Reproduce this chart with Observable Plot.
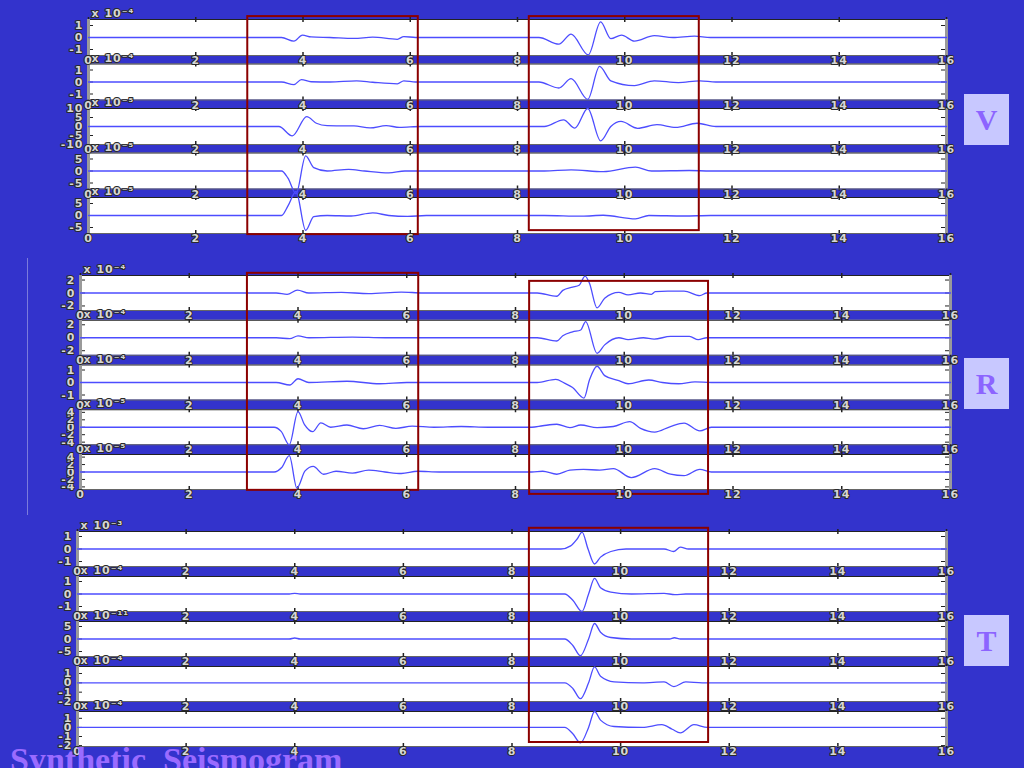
<!DOCTYPE html>
<html><head><meta charset="utf-8">
<script src="https://cdn.jsdelivr.net/npm/d3@7"></script>
<script src="https://cdn.jsdelivr.net/npm/@observablehq/plot@0.6"></script>
<style>
html,body{margin:0;padding:0;background:#3333cc;}
#page{position:relative;width:1024px;height:768px;overflow:hidden;background:#3333cc;}
.grp{position:absolute;left:0;}
.tag{position:absolute;left:964px;width:45px;height:51px;background:#c8c8ff;color:#8c64ff;font:bold 30px "Liberation Serif",serif;display:flex;align-items:center;justify-content:center;}
#title{position:absolute;left:10px;top:743px;font:bold 34px "Liberation Serif",serif;color:#9a6bff;white-space:pre;line-height:1;}
#vline{position:absolute;left:27px;top:258px;width:1px;height:257px;background:#7b7bdc;}
</style></head><body><div id="page"></div>
<script>
// ---------- data ----------
const timeTicks = [0, 2, 4, 6, 8, 10, 12, 14, 16];
const componentNames = ["V", "R", "T"];

// V component traces: [time, amplitude]
const V1 = [[0,0],[3.6,0],[3.83,-0.3],[3.99,0.2],[4.15,0.05],[4.5,0],[4.95,-0.08],[5.3,0.03],[5.76,-0.15],[5.88,0.08],[6.1,0],[8.4,0],[8.77,-0.55],[9.0,0.28],[9.32,-1.45],[9.55,1.3],[9.74,-0.1],[9.94,0.2],[10.18,-0.3],[10.55,0.15],[10.9,0],[11.3,0.12],[11.6,0],[16,0]];
const V2 = [[0,0],[3.6,0],[3.83,-0.22],[3.97,0.2],[4.15,0.02],[4.5,0],[5.0,0.1],[5.3,-0.02],[5.76,-0.15],[5.88,0.1],[6.1,0],[8.4,0],[8.77,-0.5],[9.0,0.28],[9.31,-1.45],[9.53,1.3],[9.74,0.1],[10.18,-0.3],[10.55,0.1],[11.0,-0.05],[11.4,0.1],[11.7,0],[16,0]];
const V3 = [[0,0],[3.55,0],[3.8,-5.2],[4.07,5.5],[4.25,1.8],[4.45,0.5],[4.95,0.3],[5.25,-0.8],[5.55,0.5],[5.8,-0.5],[6.2,0],[8.5,0],[8.86,3.7],[9.07,-0.9],[9.31,10],[9.55,-8],[9.74,0],[9.93,2.8],[10.24,-1],[10.6,1],[10.95,-0.5],[11.35,1.8],[11.7,0],[16,0]];
const V4 = [[0,0],[3.6,0],[3.72,-3],[3.87,-9.5],[4.05,6.3],[4.2,1.4],[4.45,0],[4.85,0.7],[5.15,0],[5.6,-0.8],[5.9,0],[8.5,0],[9.0,0.5],[9.6,-0.3],[10.2,1.6],[10.5,0],[11.2,0.2],[11.6,0],[16,0]];
const V5 = [[0,0],[3.6,0],[3.72,4],[3.87,10],[4.05,-6.2],[4.2,-0.5],[4.45,0],[4.9,-0.2],[5.3,1.1],[5.6,0],[5.95,-0.4],[6.3,0],[8.5,0],[9.2,-0.3],[9.6,0.1],[10.2,-1.4],[10.45,0],[11.1,-0.2],[11.6,0],[16,0]];
const V_yTicks = [[-1,0,1],[-1,0,1],[-10,-5,0,5,10],[-5,0,5],[-5,0,5]];
const V_domains = [[-1.5,1.5],[-1.5,1.5],[-10,10],[-7.5,7.5],[-7.5,7.5]];
const V_exponents = [-4,-4,-5,-5,-5];
const V_windows = [[2.97,6.15,-0.47,4.43],[8.22,11.39,-0.47,4.34]];

// R component traces
const R1 = [[0,0],[3.6,0],[3.8,-0.2],[3.99,0.45],[4.2,0],[4.8,0.1],[5.3,-0.1],[5.9,0.15],[6.3,0],[8.4,0],[8.76,-0.5],[8.87,0.4],[9.05,0.9],[9.17,1.2],[9.28,2.6],[9.36,1.5],[9.5,-2.3],[9.64,-0.8],[9.9,0.1],[10.07,-0.3],[10.3,0],[10.5,-0.2],[10.57,0.2],[10.8,0.3],[11.1,0.3],[11.39,-0.4],[11.52,0],[16,0]];
const R2 = [[0,0],[3.6,0],[3.85,-0.15],[4.0,0.3],[4.2,0],[5.0,0.1],[5.6,0],[8.4,0],[8.76,-0.5],[8.87,0.3],[9.05,0.9],[9.2,1.2],[9.29,2.5],[9.5,-2.4],[9.64,-1.1],[9.9,0],[10.07,-0.3],[10.35,0],[10.55,-0.2],[10.85,0.2],[11.2,0.2],[11.36,-0.3],[11.52,0],[16,0]];
const R3 = [[0,0],[3.6,0],[3.85,-0.2],[4.0,0.3],[4.2,0],[4.9,0.1],[5.5,-0.1],[6.0,0],[8.4,0],[8.74,0.25],[8.9,-0.05],[9.05,-0.4],[9.26,-1.25],[9.36,0.2],[9.5,1.3],[9.64,0.55],[9.9,0.15],[10.07,-0.1],[10.45,0.2],[10.7,0],[11.0,-0.1],[11.3,0.05],[11.6,0],[16,0]];
const R4 = [[0,0],[3.56,0],[3.69,-1.1],[3.84,-4.7],[4.0,4.2],[4.12,0.7],[4.27,-1.2],[4.42,1.2],[4.6,0],[4.9,0.6],[5.2,-0.4],[5.5,0.5],[5.8,-0.3],[6.1,0.3],[6.5,0],[7.0,0.2],[7.5,0],[8.3,0],[8.5,0.4],[8.76,0.8],[9.0,-0.1],[9.2,0.6],[9.5,-0.1],[9.8,0.2],[10.1,1.5],[10.3,-0.3],[10.56,-1.3],[10.85,0.2],[11.1,1.1],[11.39,-1],[11.6,0],[16,0]];
const R5 = [[0,0],[3.56,0],[3.7,1.2],[3.84,4.4],[3.98,-4.3],[4.13,0.3],[4.28,1.5],[4.47,-0.6],[4.7,0.2],[5.0,-0.3],[5.3,0.5],[5.6,0],[5.9,-0.4],[6.2,0.2],[6.6,0],[8.3,0],[8.5,0.2],[8.76,-0.6],[9.0,0.5],[9.25,0.7],[9.55,0.5],[9.8,0.9],[10.13,-1.5],[10.56,0.9],[10.85,-0.6],[11.1,-1],[11.39,0.7],[11.6,0],[16,0]];
const R_yTicks = [[-2,0,2],[-2,0,2],[-1,0,1],[-4,-2,0,2,4],[-4,-2,0,2,4]];
const R_domains = [[-2.7,2.7],[-2.7,2.7],[-1.4,1.4],[-4.7,4.7],[-4.7,4.7]];
const R_exponents = [-4,-4,-4,-5,-5];
const R_windows = [[3.07,6.22,-0.44,4.41],[8.26,11.55,-0.26,4.5]];

// T component traces
const T1 = [[0,0],[8.9,0],[9.08,0.25],[9.2,0.8],[9.29,1.35],[9.4,0],[9.52,-1.2],[9.63,-0.65],[9.82,-0.2],[10.1,0],[10.8,0],[10.98,-0.2],[11.1,0.15],[11.25,0],[16,0]];
const T2 = [[0,0],[3.9,0],[4.0,0.05],[4.1,0],[8.97,0],[9.12,-0.5],[9.29,-1.4],[9.41,0],[9.52,1.25],[9.63,0.5],[9.82,0.15],[10.2,0],[10.8,0.05],[11.0,-0.05],[11.2,0],[16,0]];
const T3 = [[0,0],[3.9,0],[4.0,0.4],[4.1,0],[8.97,0],[9.12,-2.6],[9.26,-6.7],[9.41,0],[9.52,6.2],[9.63,2.7],[9.82,0.6],[10.2,0],[10.9,0],[10.99,0.5],[11.1,0],[16,0]];
const T4 = [[0,0],[8.97,0],[9.12,-0.6],[9.26,-1.7],[9.41,0],[9.52,1.7],[9.63,0.7],[9.88,0.1],[10.4,0],[10.8,0.1],[10.98,-0.4],[11.2,0.1],[11.5,0],[16,0]];
const T5 = [[0,0],[8.97,0],[9.12,-0.7],[9.26,-1.7],[9.41,0],[9.52,1.75],[9.63,0.8],[9.88,0.1],[10.4,0],[10.76,0.3],[10.95,-0.2],[11.1,-0.6],[11.35,0.3],[11.6,0],[16,0]];
const T_yTicks = [[-1,0,1],[-1,0,1],[-5,0,5],[-2,-1,0,1],[-2,-1,0,1]];
const T_domains = [[-1.4,1.4],[-1.4,1.4],[-7,7],[-2,1.75],[-2.1,1.75]];
const T_exponents = [-3,-4,-11,-4,-4];
const T_windows = [[8.32,11.62,-0.46,4.3]];

const titleText = "Synthetic  Seismogram";

// ---------- layout ----------
const layouts = {
  V: {L: 88, R: 946, c0: 37,    P: 44.5,  H: 36, top: 0,   hgt: 255},
  R: {L: 80, R: 950, c0: 292.5, P: 44.75, H: 35, top: 255, hgt: 260},
  T: {L: 77, R: 946, c0: 548.5, P: 45,    H: 35, top: 515, hgt: 253}
};
const tagTops = {V: 94, R: 358, T: 615};

const sup = n => String(n).replace(/-/g, "\u207B").replace(/\d/g, d => "\u2070\u00B9\u00B2\u00B3\u2074\u2075\u2076\u2077\u2078\u2079"[d]);

const page = document.getElementById("page");

function drawGroup(name, traces, yTicks, domains, exps, windows) {
  const lay = layouts[name];
  const {L, R, c0, P, H, top, hgt} = lay;
  const h = H / (2 * P);
  const px = 1 / P;
  const tx = 5 * 16 / (R - L);
  const toSlot = (k, v) => { const [lo, hi] = domains[k]; return k + h - (v - lo) / (hi - lo) * 2 * h; };
  const panels = traces.map((_, k) => ({k, exp: exps[k]}));
  const pts = traces.flatMap((tr, k) => tr.map(([t, v]) => ({k, t, s: toSlot(k, v)})));
  const xt = panels.flatMap(p => timeTicks.map(t => ({k: p.k, t})));
  const yt = panels.flatMap(p => yTicks[p.k].map(v => ({k: p.k, v, s: toSlot(p.k, v)})));
  const lab = {fill: "#d6d6d6", stroke: "#2a2a2a", strokeWidth: 2, fontSize: 11, fontWeight: "bold", paintOrder: "stroke"};
  const svg = Plot.plot({
    width: 1024, height: hgt,
    x: {domain: [0, 16], range: [L, R], axis: null},
    y: {domain: [-0.5, 4.5], range: [c0 - 0.5 * P - top, c0 + 4.5 * P - top], axis: null},
    style: {background: "transparent", overflow: "visible", fontFamily: "DejaVu Sans", letterSpacing: "1px"},
    marks: [
      Plot.rect(panels, {x1: 0, x2: 16, y1: d => d.k - h, y2: d => d.k + h, fill: "white"}),
      Plot.ruleX(xt, {x: "t", y1: d => d.k - h - 2 * px, y2: d => d.k - h + 3 * px, stroke: "#222", strokeWidth: 1.5}),
      Plot.ruleX(xt, {x: "t", y1: d => d.k + h - 3 * px, y2: d => d.k + h + 2 * px, stroke: "#222", strokeWidth: 1.5}),
      Plot.ruleY(yt, {y: "s", x1: 0, x2: tx, stroke: "#222"}),
      Plot.ruleY(yt, {y: "s", x1: 16 - tx, x2: 16, stroke: "#222"}),
      Plot.ruleY(panels, {y: d => d.k - h, x1: 0, x2: 16, stroke: "#222"}),
      Plot.ruleY(panels, {y: d => d.k + h, x1: 0, x2: 16, stroke: "#666"}),
      Plot.ruleX(panels, {x: 0, y1: d => d.k - h, y2: d => d.k + h, stroke: "#9a9a9a", strokeWidth: 3}),
      Plot.ruleX(panels, {x: 16, y1: d => d.k - h, y2: d => d.k + h, stroke: "#9a9a9a", strokeWidth: 3}),
      Plot.line(pts, {x: "t", y: "s", z: "k", stroke: "#4d4dff", strokeWidth: 1.3, curve: "monotone-x"}),
      Plot.rect(windows, {x1: d => d[0], x2: d => d[1], y1: d => d[2], y2: d => d[3], fill: "none", stroke: "#8b0000", strokeWidth: 2}),
      Plot.text(xt, {x: "t", y: d => d.k + h, dy: 5, text: d => String(d.t), ...lab}),
      Plot.text(yt, {x: 0, y: "s", dx: -5, textAnchor: "end", text: d => String(d.v), ...lab}),
      Plot.text(panels, {x: 0, y: d => d.k - h, dy: -6, dx: 3, textAnchor: "start", text: d => "x 10" + sup(d.exp), ...lab})
    ]
  });
  const wrap = document.createElement("div");
  wrap.className = "grp";
  wrap.style.top = top + "px";
  wrap.appendChild(svg);
  page.appendChild(wrap);

  const tag = document.createElement("div");
  tag.className = "tag";
  tag.style.top = tagTops[name] + "px";
  tag.textContent = name;
  page.appendChild(tag);
}

drawGroup(componentNames[0], [V1, V2, V3, V4, V5], V_yTicks, V_domains, V_exponents, V_windows);
drawGroup(componentNames[1], [R1, R2, R3, R4, R5], R_yTicks, R_domains, R_exponents, R_windows);
drawGroup(componentNames[2], [T1, T2, T3, T4, T5], T_yTicks, T_domains, T_exponents, T_windows);

const vline = document.createElement("div");
vline.id = "vline";
page.appendChild(vline);

const title = document.createElement("div");
title.id = "title";
title.textContent = titleText;
page.appendChild(title);
</script>
</body></html>
